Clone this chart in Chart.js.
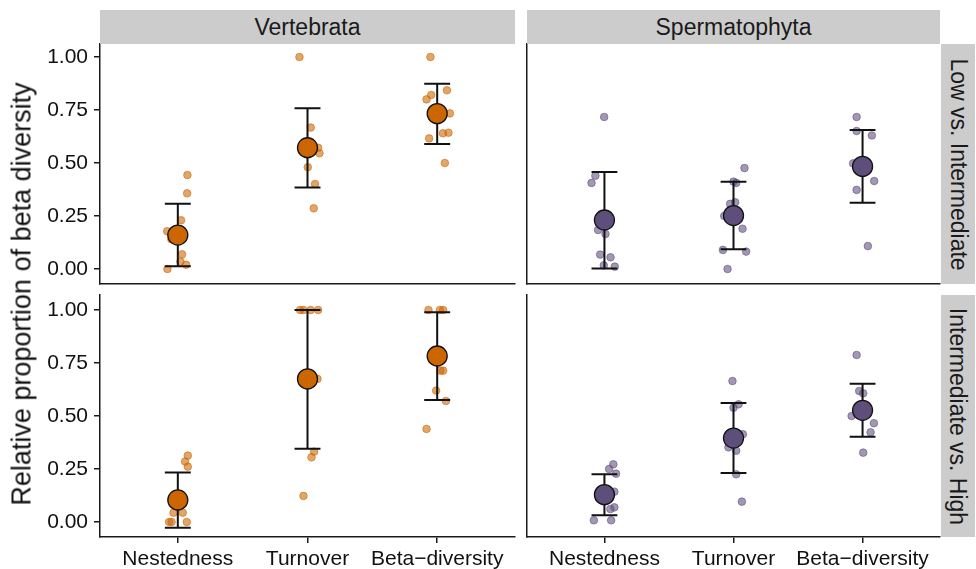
<!DOCTYPE html>
<html><head><meta charset="utf-8">
<script src="https://cdn.jsdelivr.net/npm/chart.js@4.4.1/dist/chart.umd.min.js"></script>
<style>
html,body{margin:0;padding:0;background:#fff;}
#wrap{position:relative;width:976px;height:569px;overflow:hidden;font-family:"Liberation Sans",Arial,Helvetica,sans-serif;color:#1a1a1a;}
canvas{position:absolute;left:0;top:0;}
.strip{position:absolute;background:#cccccc;display:flex;align-items:center;justify-content:center;font-size:23px;}
.vstrip span{display:block;transform:rotate(90deg);white-space:nowrap;}
#ytitle{position:absolute;left:22px;top:294px;transform:translate(-50%,-50%) rotate(-90deg);white-space:nowrap;font-size:27px;color:#111;}
</style></head>
<body>
<div id="wrap">
  <canvas id="c1" width="976" height="569"></canvas>
  <canvas id="c2" width="976" height="569"></canvas>
  <canvas id="c3" width="976" height="569"></canvas>
  <canvas id="c4" width="976" height="569"></canvas>
  <div class="strip" style="left:100px;top:10px;width:415px;height:34px;">Vertebrata</div>
  <div class="strip" style="left:527px;top:10px;width:413px;height:34px;">Spermatophyta</div>
  <div class="strip vstrip" style="left:941px;top:44px;width:34px;height:240px;"><span>Low vs. Intermediate</span></div>
  <div class="strip vstrip" style="left:941px;top:295px;width:34px;height:242px;"><span>Intermediate vs. High</span></div>
  <div id="ytitle">Relative proportion of beta diversity</div>
</div>
<script>
// ---- categories and tick labels ----
const categories = ['Nestedness', 'Turnover', 'Beta\u2212diversity'];
const yTickValues = [0, 0.25, 0.5, 0.75, 1];
const yTickLabels = ['0.00', '0.25', '0.50', '0.75', '1.00'];

// ---- Vertebrata, Low vs. Intermediate ----
const vertLowMean = [0.160, 0.572, 0.733];
const vertLowLo   = [0.013, 0.384, 0.590];
const vertLowHi   = [0.308, 0.758, 0.874];
const vertLowPtX = [1.074, 1.072, 1.025, 0.918, 0.950, 1.033, 1.020, 1.064, 0.920,
                    1.938, 2.025, 2.082, 2.092, 2.002, 2.058, 2.048,
                    2.948, 3.075, 2.954, 2.918, 3.098, 3.044, 3.087, 2.938, 3.059];
const vertLowPtY = [0.443, 0.357, 0.230, 0.178, 0.140, 0.069, 0.035, 0.020, 0.000,
                    1.000, 0.667, 0.572, 0.546, 0.480, 0.401, 0.286,
                    1.000, 0.843, 0.821, 0.800, 0.734, 0.640, 0.643, 0.616, 0.500];

// ---- Spermatophyta, Low vs. Intermediate ----
const spermLowMean = [0.231, 0.252, 0.484];
const spermLowLo   = [0.002, 0.093, 0.313];
const spermLowHi   = [0.458, 0.412, 0.656];
const spermLowPtX = [0.998, 0.930, 0.900, 0.951, 1.008, 0.967, 1.047, 0.995, 1.080,
                     2.085, 2.000, 2.021, 2.013, 1.974, 1.928, 2.070, 1.918, 2.098, 1.954,
                     2.954, 2.954, 3.072, 2.927, 3.090, 2.954, 3.041];
const spermLowPtY = [0.717, 0.440, 0.406, 0.184, 0.165, 0.068, 0.055, 0.017, 0.011,
                     0.476, 0.412, 0.406, 0.315, 0.307, 0.250, 0.190, 0.090, 0.082, 0.000,
                     0.717, 0.651, 0.630, 0.498, 0.415, 0.373, 0.108];

// ---- Vertebrata, Intermediate vs. High ----
const vertHighMean = [0.104, 0.675, 0.783];
const vertHighLo   = [-0.027, 0.346, 0.575];
const vertHighHi   = [0.234, 1.000, 0.989];
const vertHighPtX = [1.077, 1.056, 1.077, 0.967, 1.038, 0.933, 0.952, 1.069,
                     1.943, 1.969, 2.025, 2.082, 2.077, 2.051, 2.031, 1.969,
                     2.933, 3.021, 3.046, 3.025, 3.046, 2.992, 3.067, 2.918];
const vertHighPtY = [0.313, 0.285, 0.261, 0.044, 0.044, 0.000, 0.000, 0.000,
                     1.000, 1.000, 1.000, 1.000, 0.675, 0.332, 0.305, 0.123,
                     1.000, 1.000, 1.000, 0.714, 0.714, 0.620, 0.571, 0.439];

// ---- Spermatophyta, Intermediate vs. High ----
const spermHighMean = [0.129, 0.396, 0.527];
const spermHighLo   = [0.032, 0.231, 0.402];
const spermHighHi   = [0.225, 0.561, 0.652];
const spermHighPtX = [1.069, 1.036, 1.090, 1.077, 1.077, 1.046, 0.918, 1.052,
                      1.992, 2.039, 2.000, 2.073, 1.961, 2.021, 2.021, 2.065,
                      2.954, 2.974, 3.005, 2.915, 3.088, 3.062, 3.005];
const spermHighPtY = [0.272, 0.250, 0.228, 0.143, 0.069, 0.061, 0.008, 0.008,
                      0.665, 0.555, 0.539, 0.414, 0.352, 0.336, 0.225, 0.096,
                      0.788, 0.618, 0.607, 0.500, 0.466, 0.423, 0.327];

// ---- styles ----
const FONT = '"Liberation Sans", Arial, Helvetica, sans-serif';
const colVert = [204, 102, 0];
const colSperm = [94, 78, 124];
const capHalf = 0.1;
const axisColor = '#1a1a1a';
const W = 976, H = 569;

function rgba(c, a) { return 'rgba(' + c[0] + ',' + c[1] + ',' + c[2] + ',' + a + ')'; }

function errData(lo, hi) {
  const d = [];
  lo.forEach((l, i) => {
    const x = i + 1, h = hi[i];
    d.push({x: x - capHalf, y: h}, {x: x + capHalf, y: h}, {x: x, y: null});
    d.push({x: x, y: h}, {x: x, y: l}, {x: x, y: null});
    d.push({x: x - capHalf, y: l}, {x: x + capHalf, y: l}, {x: x, y: null});
  });
  return d;
}

function zeroPad(s) { s.paddingLeft = 0; s.paddingRight = 0; s.paddingTop = 0; s.paddingBottom = 0; }

function makePanel(id, area, yRange, showX, showY, col, mean, lo, hi, px, py) {
  const pts = px.map((x, i) => ({x: x, y: py[i]}));
  const means = mean.map((m, i) => ({x: i + 1, y: m}));
  const yW = showY ? area[0] : 0;
  const xH = showX ? H - area[3] : 0;
  new Chart(document.getElementById(id), {
    type: 'scatter',
    data: {
      datasets: [
        { data: means, order: 0, pointRadius: 10, pointHoverRadius: 10,
          backgroundColor: rgba(col, 1), borderColor: '#111', borderWidth: 1.3 },
        { data: errData(lo, hi), order: 1, showLine: true, spanGaps: false,
          pointRadius: 0, pointHoverRadius: 0, borderColor: '#111', borderWidth: 2,
          borderCapStyle: 'butt' },
        { data: pts, order: 2, pointRadius: 3.8, pointHoverRadius: 3.8,
          backgroundColor: rgba(col, 0.58), borderColor: rgba(col, 0.58), borderWidth: 1 }
      ]
    },
    options: {
      responsive: false, animation: false, events: [],
      layout: { padding: { left: area[0] - yW, top: area[1], right: W - area[2], bottom: H - area[3] - xH } },
      plugins: { legend: { display: false }, tooltip: { enabled: false } },
      scales: {
        x: {
          type: 'linear', min: 0.4, max: 3.6,
          afterBuildTicks: s => { s.ticks = [1, 2, 3].map(v => ({value: v})); },
          afterFit: s => { s.height = xH; zeroPad(s); },
          ticks: { display: showX, autoSkip: false, maxRotation: 0, padding: 4,
                   color: '#111', font: { family: FONT, size: 21 },
                   callback: (v, i) => categories[i] },
          grid: { display: showX, drawOnChartArea: false, drawTicks: true, tickLength: 6,
                  color: axisColor, lineWidth: 1.5 },
          border: { display: true, color: axisColor, width: 1.5 }
        },
        y: {
          type: 'linear', min: yRange[0], max: yRange[1],
          afterBuildTicks: s => { s.ticks = yTickValues.map(v => ({value: v})); },
          afterFit: s => { s.width = yW; zeroPad(s); },
          ticks: { display: showY, autoSkip: false, padding: 6,
                   color: '#111', font: { family: FONT, size: 21 },
                   callback: (v, i) => yTickLabels[i] },
          grid: { display: showY, drawOnChartArea: false, drawTicks: true, tickLength: 6,
                  color: axisColor, lineWidth: 1.5 },
          border: { display: true, color: axisColor, width: 1.5 }
        }
      }
    }
  });
}

const topRange = [-0.0708, 1.0613];
const botRange = [-0.0708, 1.0708];
makePanel('c1', [100, 44, 515, 284], topRange, false, true, colVert, vertLowMean, vertLowLo, vertLowHi, vertLowPtX, vertLowPtY);
makePanel('c2', [527, 44, 940, 284], topRange, false, false, colSperm, spermLowMean, spermLowLo, spermLowHi, spermLowPtX, spermLowPtY);
makePanel('c3', [100, 295, 515, 537], botRange, true, true, colVert, vertHighMean, vertHighLo, vertHighHi, vertHighPtX, vertHighPtY);
makePanel('c4', [527, 295, 940, 537], botRange, true, false, colSperm, spermHighMean, spermHighLo, spermHighHi, spermHighPtX, spermHighPtY);
</script>
</body></html>
